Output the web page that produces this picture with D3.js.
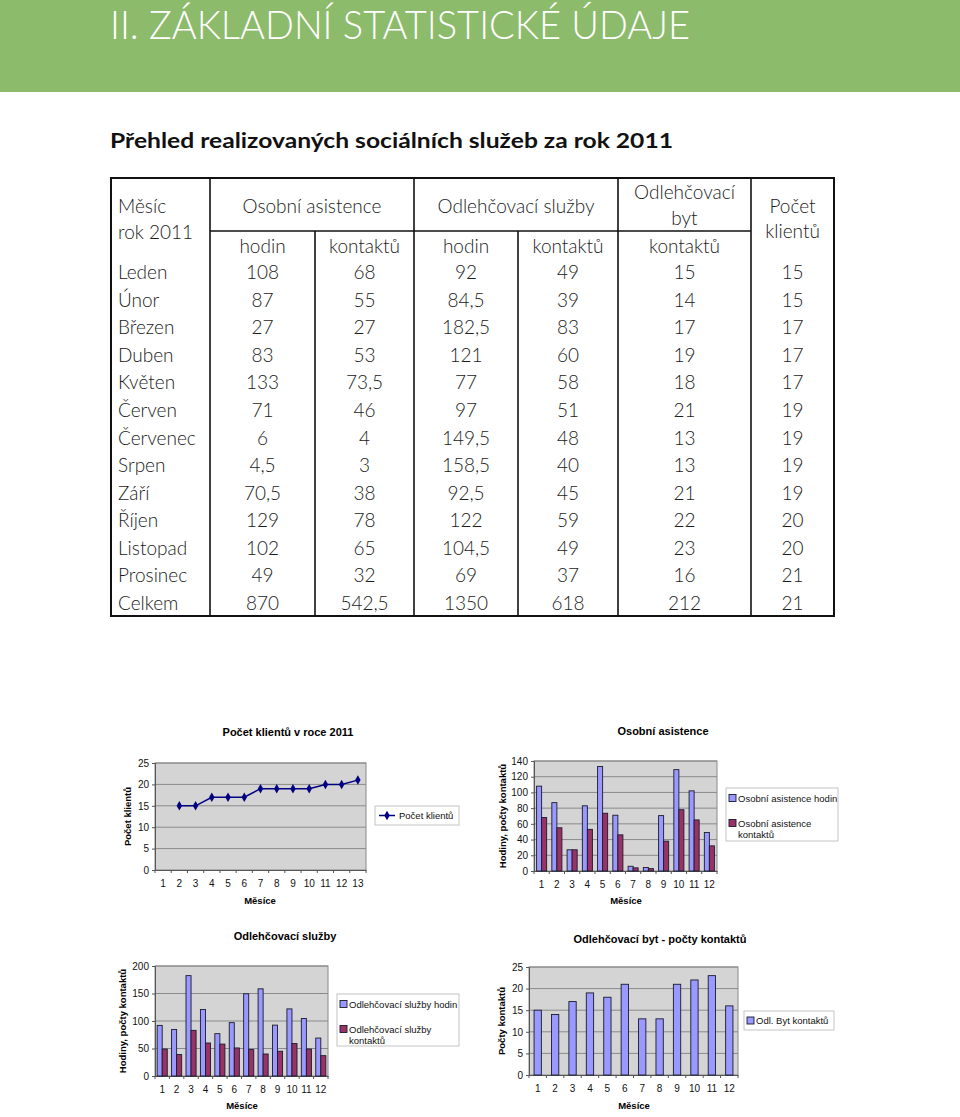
<!DOCTYPE html>
<html><head><meta charset="utf-8">
<script src="https://cdn.jsdelivr.net/npm/d3@7/dist/d3.min.js"></script>
<style>body{margin:0;background:#fff}svg{display:block}</style>
</head><body><svg id="c" width="960" height="1117"></svg>
<script>
// ---------- DATA ----------
const months = ["Leden","Únor","Březen","Duben","Květen","Červen","Červenec","Srpen","Září","Říjen","Listopad","Prosinec"];
const oaHodin = [108,87,27,83,133,71,6,4.5,70.5,129,102,49];
const oaKontaktu = [68,55,27,53,73.5,46,4,3,38,78,65,32];
const olsHodin = [92,84.5,182.5,121,77,97,149.5,158.5,92.5,122,104.5,69];
const olsKontaktu = [49,39,83,60,58,51,48,40,45,59,49,37];
const obytKontaktu = [15,14,17,19,18,21,13,13,21,22,23,16];
const klienti = [15,15,17,17,17,19,19,19,19,20,20,21];
const celkemRow = [870,542.5,1350,618,212,21];
const catLabels12 = ["1","2","3","4","5","6","7","8","9","10","11","12"];
const catLabels13 = ["1","2","3","4","5","6","7","8","9","10","11","12","13"];
// line chart: category 1 empty, months at 2..13
const klientiSeries = [null].concat(klienti);
const yTicksKlienti = [0,5,10,15,20,25];
const yTicksOA = [0,20,40,60,80,100,120,140];
const yTicksOLS = [0,50,100,150,200];
const yTicksObyt = [0,5,10,15,20,25];

// ---------- PAGE ----------
const svg = d3.select("#c");
const TF = "Lato, 'Open Sans', 'DejaVu Sans', sans-serif";
const CF = "'Liberation Sans', Arial, sans-serif";

svg.append("rect").attr("x",0).attr("y",0).attr("width",960).attr("height",92).attr("fill","#8dbb6c");
svg.append("text").attr("x",110).attr("y",39).attr("fill","#fff")
  .attr("font-family",TF).attr("font-weight",300).attr("font-size",39)
  .attr("textLength",580).attr("lengthAdjust","spacingAndGlyphs")
  .text("II. ZÁKLADNÍ STATISTICKÉ ÚDAJE");
svg.append("text").attr("x",110).attr("y",148).attr("fill","#111")
  .attr("font-family",TF).attr("font-weight",700).attr("font-size",20)
  .attr("textLength",563).attr("lengthAdjust","spacingAndGlyphs")
  .text("Přehled realizovaných sociálních služeb za rok 2011");

// ---------- TABLE ----------
const fmt = v => String(v).replace(".", ",");
const cols = [111,210,315,414,518,618,751,834];
const tTop = 178, tHeadMid = 231, tBodyTop = 258, tBottom = 616;
const rowNames = months.concat(["Celkem"]);
const rowVals = months.map((m,i)=>[oaHodin[i],oaKontaktu[i],olsHodin[i],olsKontaktu[i],obytKontaktu[i],klienti[i]]).concat([celkemRow]);
const yRow = d3.scaleBand().domain(rowNames).range([tBodyTop, tBottom]);
const tg = svg.append("g").attr("font-family",TF).attr("font-weight",300).attr("font-size",19).attr("fill","#1a1a1a");
tg.append("rect").attr("x",cols[0]).attr("y",tTop).attr("width",cols[7]-cols[0]).attr("height",tBottom-tTop)
  .attr("fill","none").attr("stroke","#111").attr("stroke-width",2);
[1,3,5,6].forEach(i=>tg.append("line").attr("x1",cols[i]).attr("x2",cols[i]).attr("y1",tTop).attr("y2",tBottom).attr("stroke","#111").attr("stroke-width",1.6));
[2,4].forEach(i=>tg.append("line").attr("x1",cols[i]).attr("x2",cols[i]).attr("y1",tHeadMid).attr("y2",tBottom).attr("stroke","#111").attr("stroke-width",1.6));
tg.append("line").attr("x1",cols[1]).attr("x2",cols[6]).attr("y1",tHeadMid).attr("y2",tHeadMid).attr("stroke","#111").attr("stroke-width",1.6);
const hdr = (t,x,y,anchor="middle") => tg.append("text").attr("x",x).attr("y",y).attr("text-anchor",anchor).attr("dominant-baseline","central").text(t);
hdr("Měsíc",118,205,"start"); hdr("rok 2011",118,231,"start");
hdr("Osobní asistence",(cols[1]+cols[3])/2,205);
hdr("Odlehčovací služby",(cols[3]+cols[5])/2,205);
hdr("Odlehčovací",(cols[5]+cols[6])/2,191); hdr("byt",(cols[5]+cols[6])/2,217);
hdr("Počet",(cols[6]+cols[7])/2,205); hdr("klientů",(cols[6]+cols[7])/2,230);
["hodin","kontaktů","hodin","kontaktů"].forEach((t,i)=>hdr(t,(cols[i+1]+cols[i+2])/2,245));
hdr("kontaktů",(cols[5]+cols[6])/2,245);
rowNames.forEach((r,ri)=>{
  const cy = yRow(r)+yRow.bandwidth()/2;
  hdr(r,118,cy,"start");
  rowVals[ri].forEach((v,ci)=>hdr(fmt(v),(cols[ci+1]+cols[ci+2])/2,cy));
});

// ---------- CHARTS ----------
function chart(o){
  const g = svg.append("g").attr("font-family",CF).attr("fill","#000");
  const x = d3.scaleBand().domain(o.cats).range([o.x0,o.x1]).padding(0);
  const y = d3.scaleLinear().domain([0,o.ymax]).range([o.y1,o.y0]);
  g.append("rect").attr("x",o.x0).attr("y",o.y0).attr("width",o.x1-o.x0).attr("height",o.y1-o.y0)
    .attr("fill","#d4d4d4").attr("stroke","#8a8a8a").attr("stroke-width",1);
  o.yticks.forEach(t=>{
    if(t>0) g.append("line").attr("x1",o.x0).attr("x2",o.x1).attr("y1",y(t)).attr("y2",y(t)).attr("stroke","#8a8a8a").attr("stroke-width",1);
  });
  const ya = g.append("g").attr("transform",`translate(${o.x0},0)`).call(d3.axisLeft(y).tickValues(o.yticks).tickSize(3).tickPadding(3));
  ya.select(".domain").attr("stroke","#555");
  ya.selectAll(".tick line").attr("stroke","#555");
  ya.selectAll("text").attr("font-family",CF).attr("font-size",10).attr("fill","#111");
  const xa = g.append("g").attr("transform",`translate(0,${o.y1})`).call(d3.axisBottom(x).tickSize(0).tickPadding(10));
  xa.select(".domain").attr("stroke","#555");
  xa.selectAll("text").attr("font-family",CF).attr("font-size",10).attr("fill","#111");
  o.cats.forEach(c=>g.append("line").attr("x1",x(c)).attr("x2",x(c)).attr("y1",o.y1).attr("y2",o.y1+3).attr("stroke","#555"));
  g.append("line").attr("x1",o.x1).attr("x2",o.x1).attr("y1",o.y1).attr("y2",o.y1+3).attr("stroke","#555");
  if(o.type==="bar"){
    const n = o.series.length, bw = x.bandwidth()*o.barFrac, gw = bw*n;
    o.series.forEach((s,si)=>{
      g.append("g").selectAll("rect").data(s.values).join("rect")
        .attr("x",(d,i)=>x(o.cats[i])+(x.bandwidth()-gw)/2+si*bw)
        .attr("y",d=>y(d)).attr("width",bw).attr("height",d=>y(0)-y(d))
        .attr("fill",s.color).attr("stroke","#1a1a2e").attr("stroke-width",0.9);
    });
  } else {
    const s = o.series[0];
    const pts = s.values.map((v,i)=>({v,c:o.cats[i]})).filter(d=>d.v!==null);
    g.append("path").datum(pts).attr("fill","none").attr("stroke","#000080").attr("stroke-width",1.5)
      .attr("d",d3.line().x(d=>x(d.c)+x.bandwidth()/2).y(d=>y(d.v)));
    g.selectAll(".pt").data(pts).join("path").attr("class","pt")
      .attr("transform",d=>`translate(${x(d.c)+x.bandwidth()/2},${y(d.v)})`)
      .attr("d",d3.symbol(d3.symbolDiamond,26)).attr("fill","#000080");
  }
  g.append("text").attr("x",o.titleX).attr("y",o.titleY).attr("text-anchor","middle").attr("font-size",11).attr("font-weight","bold").text(o.title);
  g.append("text").attr("x",o.mesX).attr("y",o.mesY).attr("text-anchor","middle").attr("font-size",9.5).attr("font-weight","bold").text("Měsíce");
  g.append("text").attr("transform",`translate(${o.yTitleX},${(o.y0+o.y1)/2}) rotate(-90)`).attr("text-anchor","middle")
    .attr("font-size",9.5).attr("font-weight","bold").text(o.yTitle);
  const L = o.legend;
  g.append("rect").attr("x",L.x).attr("y",L.y).attr("width",L.w).attr("height",L.h).attr("fill","#fff").attr("stroke","#c4c4c4");
  L.items.forEach(it=>{
    if(it.line){
      g.append("line").attr("x1",L.x+4).attr("x2",L.x+20).attr("y1",it.y).attr("y2",it.y).attr("stroke","#000080").attr("stroke-width",1.5);
      g.append("path").attr("transform",`translate(${L.x+12},${it.y})`).attr("d",d3.symbol(d3.symbolDiamond,26)).attr("fill","#000080");
    } else {
      g.append("rect").attr("x",L.x+3).attr("y",it.y-3.5).attr("width",7).attr("height",7).attr("fill",it.color).attr("stroke","#1a1a2e").attr("stroke-width",0.9);
    }
    it.lines.forEach((t,k)=>g.append("text").attr("x",L.x+(it.line?24:12)).attr("y",it.y+k*11).attr("dominant-baseline","central").attr("font-size",9.5).attr("fill","#111").text(t));
  });
}

const C1 = "#9999ff", C2 = "#993366";
chart({title:"Počet klientů v roce 2011",titleX:288,titleY:736,x0:155,x1:366,y0:763,y1:870,ymax:25,yticks:yTicksKlienti,
  cats:catLabels13,type:"line",series:[{values:klientiSeries}],yTitle:"Počet klientů",yTitleX:131,mesX:260,mesY:904,
  legend:{x:375,y:806,w:84,h:19,items:[{line:true,y:815.5,lines:["Počet klientů"]}]}});
chart({title:"Osobní asistence",titleX:663,titleY:735,x0:534,x1:717,y0:761,y1:871,ymax:140,yticks:yTicksOA,
  cats:catLabels12,type:"bar",barFrac:0.33,series:[{values:oaHodin,color:C1},{values:oaKontaktu,color:C2}],
  yTitle:"Hodiny, počty kontaktů",yTitleX:506,mesX:626,mesY:904,
  legend:{x:726,y:788,w:112,h:53,items:[{color:C1,y:798,lines:["Osobní asistence hodin"]},{color:C2,y:823,lines:["Osobní asistence","kontaktů"]}]}});
chart({title:"Odlehčovací služby",titleX:285,titleY:940,x0:155,x1:328,y0:966,y1:1076,ymax:200,yticks:yTicksOLS,
  cats:catLabels12,type:"bar",barFrac:0.35,series:[{values:olsHodin,color:C1},{values:olsKontaktu,color:C2}],
  yTitle:"Hodiny, počty kontaktů",yTitleX:126,mesX:242,mesY:1109,
  legend:{x:337,y:994,w:122,h:52,items:[{color:C1,y:1004,lines:["Odlehčovací služby hodin"]},{color:C2,y:1029,lines:["Odlehčovací služby","kontaktů"]}]}});
chart({title:"Odlehčovací byt - počty kontaktů",titleX:660,titleY:943,x0:529,x1:738,y0:967,y1:1075,ymax:25,yticks:yTicksObyt,
  cats:catLabels12,type:"bar",barFrac:0.42,series:[{values:obytKontaktu,color:C1}],
  yTitle:"Počty kontaktů",yTitleX:505,mesX:634,mesY:1109,
  legend:{x:744,y:1011,w:90,h:19,items:[{color:C1,y:1020.5,lines:["Odl. Byt kontaktů"]}]}});
</script></body></html>
